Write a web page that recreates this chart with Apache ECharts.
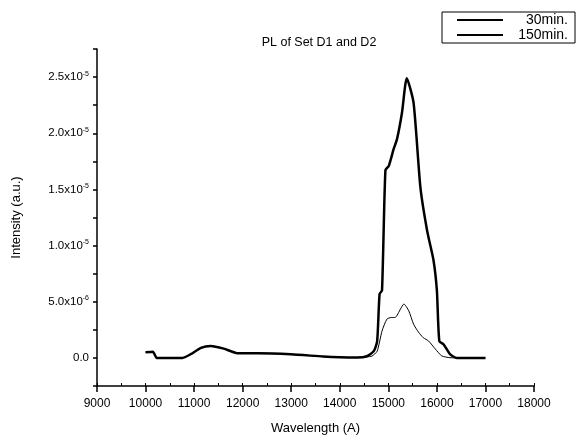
<!DOCTYPE html>
<html>
<head>
<meta charset="utf-8">
<script src="https://cdn.jsdelivr.net/npm/echarts@6/dist/echarts.min.js"></script>
<style>
html,body{margin:0;padding:0;background:#fff;}
#chart{width:582px;height:439px;}
</style>
</head>
<body>
<div id="chart"></div>
<script>
// ---- data ----
const seriesNames = ['30min.', '150min.'];

const thinWavelength = [10000, 10150, 10230, 10300, 10760, 10930, 11140, 11340, 11610, 11890, 12300, 12990, 13660, 14000, 14360, 14560, 14660, 14770, 14870, 14970, 15060, 15140, 15250, 15320, 15420, 15520, 15620, 15720, 15830, 15970, 16100, 16270, 16500, 17000];
const thinIntensity  = [5.0e-7, 5.5e-7, 0.0, 0.0, 0.0, 3.3e-7, 9.0e-7, 1.07e-6, 8.3e-7, 4.2e-7, 4.2e-7, 3.3e-7, 1.2e-7, 5e-8, 3e-8, 1.0e-7, 1.5e-7, 6.0e-7, 2.4e-6, 3.45e-6, 3.6e-6, 3.6e-6, 4.35e-6, 4.8e-6, 4.2e-6, 3.0e-6, 2.3e-6, 1.8e-6, 1.5e-6, 7.8e-7, 1.8e-7, 2e-8, 0.0, 0.0];

const thickWavelength = [10000, 10150, 10230, 10300, 10760, 10930, 11140, 11340, 11610, 11890, 12300, 12990, 13660, 14000, 14360, 14560, 14700, 14770, 14820, 14870, 14940, 15010, 15110, 15180, 15280, 15380, 15520, 15660, 15800, 15930, 16000, 16050, 16140, 16270, 16410, 16700, 17000];
const thickIntensity  = [5.0e-7, 5.5e-7, 0.0, 0.0, 0.0, 3.3e-7, 9.0e-7, 1.07e-6, 8.3e-7, 4.2e-7, 4.2e-7, 3.3e-7, 1.2e-7, 5e-8, 3e-8, 1.5e-7, 6.0e-7, 1.5e-6, 5.7e-6, 6.0e-6, 1.67e-5, 1.71e-5, 1.86e-5, 1.95e-5, 2.18e-5, 2.49e-5, 2.27e-5, 1.52e-5, 1.13e-5, 8.7e-6, 6.0e-6, 1.5e-6, 1.2e-6, 3.3e-7, 0.0, 0.0, 0.0];

const xTickValues = [9000, 10000, 11000, 12000, 13000, 14000, 15000, 16000, 17000, 18000];
const yTickValues = [0, 5e-6, 1e-5, 1.5e-5, 2e-5, 2.5e-5];
const yTickMantissa = ['0.0', '5.0', '1.0', '1.5', '2.0', '2.5'];
const yTickExponent = ['', '-6', '-5', '-5', '-5', '-5'];

const titleText = 'PL of Set D1 and D2';
const xAxisName = 'Wavelength (A)';
const yAxisName = 'Intensity (a.u.)';

// ---- build ----
function pairs(xs, ys) { return xs.map((x, i) => [x, ys[i]]); }

const font = '"Liberation Sans", Arial, sans-serif';
const xMin = xTickValues[0], xMax = xTickValues[xTickValues.length - 1];
const chart = echarts.init(document.getElementById('chart'), null, {renderer: 'canvas'});

chart.setOption({
  animation: false,
  backgroundColor: '#fff',
  title: {
    text: titleText,
    left: 314, top: 31, textAlign: 'center',
    textStyle: {fontFamily: font, fontSize: 12.5, fontWeight: 'normal', color: '#000'}
  },
  legend: {
    orient: 'vertical',
    left: 442, top: 12,
    padding: [1, 7, 1, 14],
    itemGap: 1,
    itemWidth: 46, itemHeight: 13,
    borderColor: '#000', borderWidth: 1,
    borderRadius: 0,
    itemStyle: {opacity: 0},
    formatter: name => '{r|' + name + '}',
    textStyle: {
      fontFamily: font, fontSize: 14, color: '#000',
      rich: {r: {fontFamily: font, fontSize: 14, color: '#000', width: 60, align: 'right', lineHeight: 13}}
    },
    data: seriesNames
  },
  grid: {left: 97, right: 48, top: 49, bottom: 53, containLabel: false, outerBoundsMode: 'none'},
  xAxis: [
    {
      type: 'value',
      min: xMin, max: xMax, interval: 1000,
      name: xAxisName, nameLocation: 'middle', nameGap: 36,
      nameTextStyle: {fontFamily: font, fontSize: 13, color: '#000'},
      axisLine: {onZero: false, lineStyle: {color: '#000', width: 1.5}},
      axisTick: {show: true, inside: false, length: 6, lineStyle: {color: '#000', width: 1.5}},
      axisLabel: {fontFamily: font, fontSize: 12, color: '#000', margin: 12,
        formatter: v => xTickValues.includes(Math.round(v)) ? String(Math.round(v)) : ''},
      splitLine: {show: false}
    },
    {
      type: 'value', position: 'bottom',
      min: xMin, max: xMax, interval: 500,
      axisLine: {show: false, onZero: false},
      axisTick: {show: true, inside: true, length: 3, lineStyle: {color: '#000', width: 1}},
      axisLabel: {show: false},
      splitLine: {show: false}
    }
  ],
  yAxis: {
    type: 'value',
    min: -2.5e-6, max: 2.75e-5, interval: 2.5e-6,
    name: yAxisName, nameLocation: 'middle', nameGap: 74, nameRotate: 90,
    nameTextStyle: {fontFamily: font, fontSize: 13, color: '#000'},
    axisLine: {onZero: false, lineStyle: {color: '#000', width: 1.5}},
    axisTick: {show: true, inside: false, length: 4, lineStyle: {color: '#000', width: 1.5}},
    axisLabel: {
      fontFamily: font, fontSize: 11.5, color: '#000', margin: 8,
      formatter: function (v) {
        for (let i = 0; i < yTickValues.length; i++) {
          if (Math.abs(v - yTickValues[i]) < 1e-9) {
            return yTickExponent[i] ? yTickMantissa[i] + 'x10{sup|' + yTickExponent[i] + '}' : yTickMantissa[i];
          }
        }
        return '';
      },
      rich: {sup: {fontFamily: font, fontSize: 7, color: '#000', padding: [0, 0, 7, 0]}}
    },
    splitLine: {show: false}
  },
  series: [
    {
      name: seriesNames[0], type: 'line', xAxisIndex: 0, data: pairs(thinWavelength, thinIntensity),
      symbol: 'none', smooth: 0.2,
      lineStyle: {color: '#000', width: 1}, itemStyle: {color: '#000'}, z: 3
    },
    {
      name: seriesNames[1], type: 'line', xAxisIndex: 0, data: pairs(thickWavelength, thickIntensity),
      symbol: 'none', smooth: 0.2,
      lineStyle: {color: '#000', width: 2.5}, itemStyle: {color: '#000'}, z: 2
    }
  ]
});
</script>
</body>
</html>
